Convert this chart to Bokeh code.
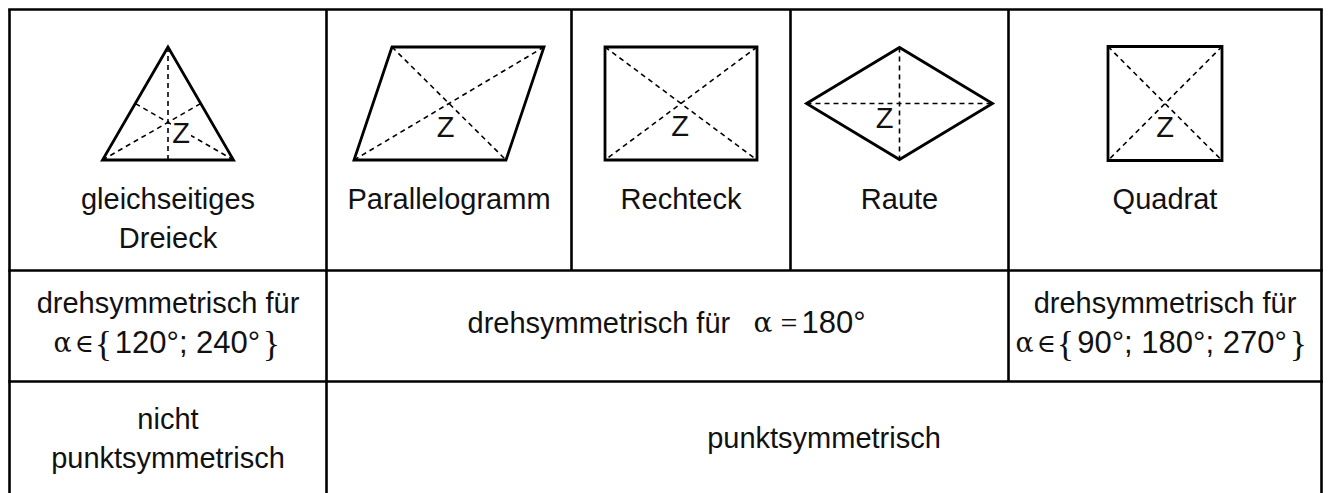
from bokeh.plotting import figure
from bokeh.models import Range1d
from bokeh.core.properties import value
from bokeh.embed import file_html
from bokeh.resources import INLINE

# ---------------- data ----------------
shape_labels_line1 = ["gleichseitiges", "Parallelogramm", "Rechteck", "Raute", "Quadrat"]
shape_labels_line2 = ["Dreieck", "", "", "", ""]
rot_left_1 = "drehsymmetrisch für"
rot_left_set = "120°; 240°"
rot_mid_text = "drehsymmetrisch für"
rot_mid_value = "180°"
rot_right_1 = "drehsymmetrisch für"
rot_right_set = "90°; 180°; 270°"
point_left = ["nicht", "punktsymmetrisch"]
point_right = "punktsymmetrisch"

# table layout (picture pixels)
col_x = [9, 326, 571, 790, 1008, 1321]
row_y = [9, 270, 381, 520]

# shape outlines relative to the cell centre
tri_x = [0, -65.5, 65.5]
tri_y = [-56.5, 56.5, 56.5]
par_x = [-57, 95, 57, -95]
par_y = [-56.5, -56.5, 56.5, 56.5]
rec_x = [-76, 76, 76, -76]
rec_y = [-56.5, -56.5, 56.5, 56.5]
rau_x = [-93, 0, 93, 0]
rau_y = [0, -56, 0, 56]
qua_x = [-57, 57, 57, -57]
qua_y = [-57, -57, 57, 57]
z_dx = [13, -3.5, -1, -15, 0]
z_dy = [29.5, 23, 22, 14, 23]

W, H = 1328, 493
FONT = value("Liberation Sans")
SERIF = value("Liberation Serif")
MATH = value("DejaVu Serif")
INK = "#111111"

p = figure(width=W, height=H, x_range=Range1d(0, W), y_range=Range1d(H, 0),
           output_backend="svg", toolbar_location=None, min_border=0,
           x_axis_location=None, y_axis_location=None)
p.grid.visible = False
p.outline_line_color = None
p.background_fill_color = "white"
p.border_fill_color = "white"

# ---------------- table grid ----------------
x0s, y0s, x1s, y1s = [], [], [], []
for yy in row_y[:3]:
    x0s.append(col_x[0] - 1.3); x1s.append(col_x[-1] + 1.3); y0s.append(yy); y1s.append(yy)
vert_rows = [[0, 1, 2, 3, 4, 5], [0, 1, 4, 5], [0, 1, 5]]
for r, cols in enumerate(vert_rows):
    for c in cols:
        x0s.append(col_x[c]); x1s.append(col_x[c]); y0s.append(row_y[r]); y1s.append(row_y[r + 1])
p.segment(x0=x0s, y0=y0s, x1=x1s, y1=y1s, line_color="black", line_width=2.6)

# ---------------- shapes ----------------
cx = [(col_x[i] + col_x[i + 1]) / 2 for i in range(5)]
cy = 103
polys_x = [tri_x, par_x, rec_x, rau_x, qua_x]
polys_y = [tri_y, par_y, rec_y, rau_y, qua_y]

dash_x0, dash_y0, dash_x1, dash_y1 = [], [], [], []
for i, (px, py) in enumerate(zip(polys_x, polys_y)):
    ax = [cx[i] + v for v in px]
    ay = [cy + v for v in py]
    if len(px) == 3:
        for k in range(3):
            a, b = (k + 1) % 3, (k + 2) % 3
            dash_x0.append(ax[k]); dash_y0.append(ay[k])
            dash_x1.append((ax[a] + ax[b]) / 2); dash_y1.append((ay[a] + ay[b]) / 2)
    else:
        for k in range(2):
            dash_x0.append(ax[k]); dash_y0.append(ay[k])
            dash_x1.append(ax[k + 2]); dash_y1.append(ay[k + 2])
p.segment(x0=dash_x0, y0=dash_y0, x1=dash_x1, y1=dash_y1, line_color="black",
          line_width=1.6, line_dash="5 4")

p.patches(xs=[[cx[i] + v for v in px] for i, px in enumerate(polys_x)],
          ys=[[cy + v for v in py] for py in polys_y],
          fill_color=None, line_color="black", line_width=2.8, line_join="miter")

zx = [cx[i] + z_dx[i] for i in range(5)]
zy = [cy + z_dy[i] for i in range(5)]
p.quad(left=[zx[0] - 10], right=[zx[0] + 10], top=[zy[0] - 13], bottom=[zy[0] + 13],
       fill_color="white", line_color=None)
p.text(x=zx, y=zy, text=["Z"] * 5, text_font=FONT, text_font_size="29px",
       text_align="center", text_baseline="alphabetic", text_color=INK)

# ---------------- labels row 1 ----------------
p.text(x=cx, y=[198] * 5, text=shape_labels_line1, text_font=FONT, text_font_size="29px",
       text_align="center", text_baseline="alphabetic", text_color=INK)
p.text(x=cx, y=[237] * 5, text=shape_labels_line2, text_font=FONT, text_font_size="29px",
       text_align="center", text_baseline="alphabetic", text_color=INK)

# ---------------- row 2 ----------------
c_left = (col_x[0] + col_x[1]) / 2
c_right = (col_x[4] + col_x[5]) / 2
p.text(x=[c_left, c_right], y=[302, 302], text=[rot_left_1, rot_right_1], text_font=FONT,
       text_font_size="29px", text_align="center", text_baseline="alphabetic", text_color=INK)


def set_line(x_alpha, x_brace_l, x_brace_r, txt, base):
    p.text(x=[x_alpha], y=[base], text=["α"], text_font=MATH, text_font_size="27px",
           text_align="left", text_baseline="alphabetic", text_color=INK)
    p.text(x=[x_alpha + 21], y=[base], text=["∈"], text_font=MATH, text_font_size="26px",
           text_align="left", text_baseline="alphabetic", text_color=INK)
    p.text(x=[x_brace_l, x_brace_r], y=[base + 1, base + 1], text=["{", "}"], text_font=SERIF,
           text_font_size="36px", text_align="center", text_baseline="alphabetic",
           text_color=INK)
    p.text(x=[(x_brace_l + x_brace_r) / 2], y=[base], text=[txt], text_font=FONT,
           text_font_size="31px", text_align="center", text_baseline="alphabetic",
           text_color=INK)


set_line(53, 103, 271, rot_left_set, 342)
set_line(1015, 1065, 1298, rot_right_set, 342)

p.text(x=[467], y=[322], text=[rot_mid_text], text_font=FONT, text_font_size="29px",
       text_align="left", text_baseline="alphabetic", text_color=INK)
p.text(x=[753], y=[322], text=["α"], text_font=MATH, text_font_size="28px",
       text_align="left", text_baseline="alphabetic", text_color=INK)
p.text(x=[780], y=[322], text=["="], text_font=SERIF, text_font_size="30px",
       text_align="left", text_baseline="alphabetic", text_color=INK)
p.text(x=[801], y=[322], text=[rot_mid_value], text_font=FONT, text_font_size="31px",
       text_align="left", text_baseline="alphabetic", text_color=INK)

# ---------------- row 3 ----------------
p.text(x=[c_left, c_left], y=[418, 457], text=point_left, text_font=FONT,
       text_font_size="29px", text_align="center", text_baseline="alphabetic", text_color=INK)
p.text(x=[(col_x[1] + col_x[5]) / 2], y=[437], text=[point_right], text_font=FONT,
       text_font_size="29px", text_align="center", text_baseline="alphabetic", text_color=INK)

open("out.html", "w").write(file_html(p, INLINE))
